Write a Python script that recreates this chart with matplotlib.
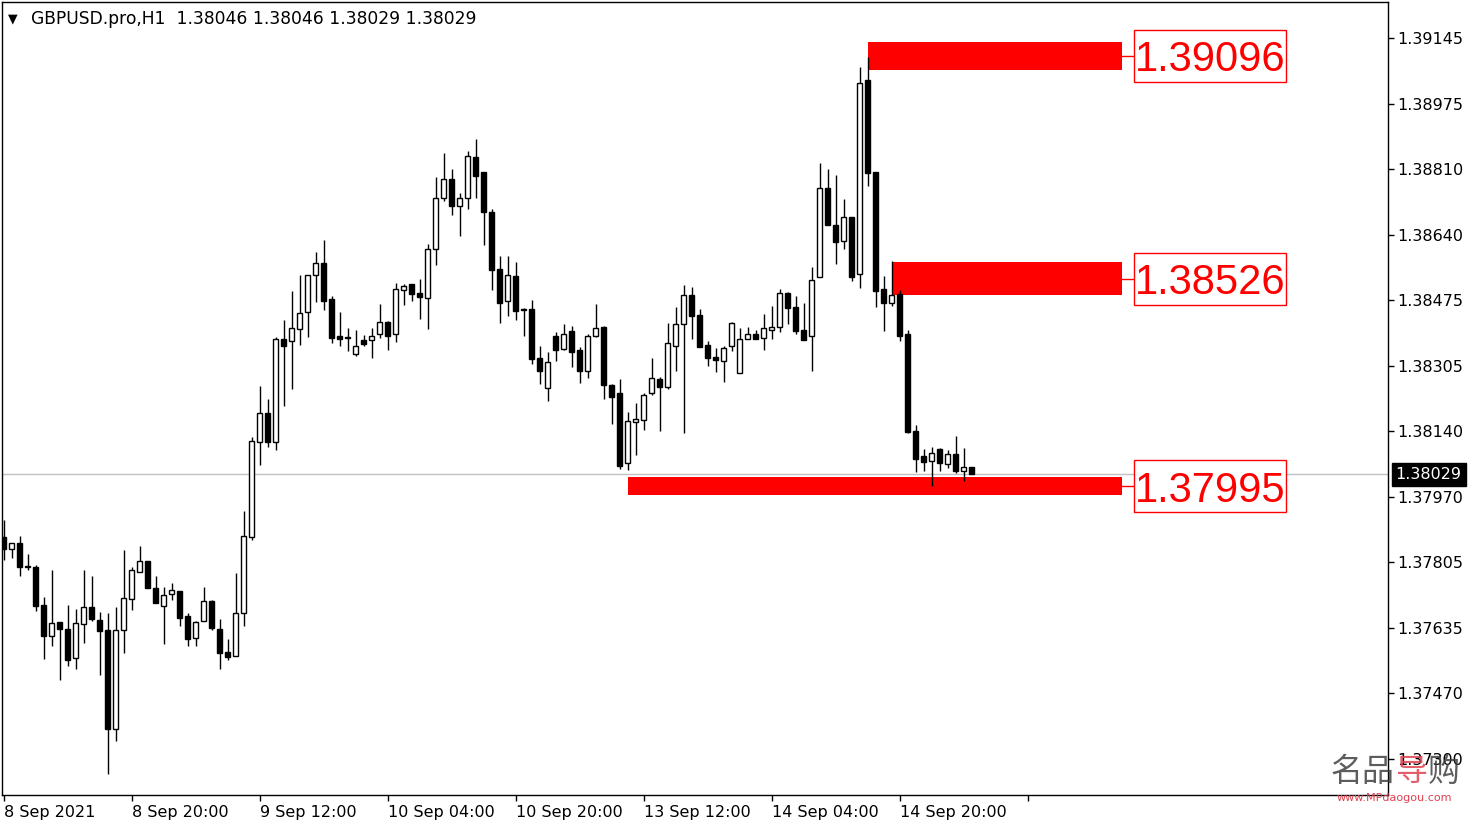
import matplotlib
matplotlib.use("Agg")
import matplotlib.pyplot as plt
from matplotlib.patches import Rectangle
from matplotlib.transforms import blended_transform_factory
import numpy as np

# GBPUSD H1 candles, 8 Sep 04:00 -> 15 Sep 05:00
opens = [1.37869, 1.37837, 1.37852, 1.37793, 1.37791, 1.37693, 1.37614, 1.37650, 1.37633, 1.37558,
         1.37645, 1.37688, 1.37656, 1.37630, 1.37378, 1.37629, 1.37710, 1.37779, 1.37807, 1.37737,
         1.37692, 1.37723, 1.37730, 1.37666, 1.37610, 1.37652, 1.37704, 1.37634, 1.37573, 1.37564,
         1.37673, 1.37869, 1.38110, 1.38185, 1.38110, 1.38375, 1.38369, 1.38400, 1.38443, 1.38538,
         1.38568, 1.38477, 1.38382, 1.38380, 1.38337, 1.38371, 1.38371, 1.38387, 1.38417, 1.38387,
         1.38499, 1.38515, 1.38492, 1.38479, 1.38604, 1.38735, 1.38783, 1.38714, 1.38735, 1.38840,
         1.38801, 1.38699, 1.38554, 1.38471, 1.38536, 1.38451, 1.38452, 1.38326, 1.38250, 1.38382,
         1.38350, 1.38395, 1.38347, 1.38294, 1.38382, 1.38405, 1.38257, 1.38237, 1.38057, 1.38163,
         1.38167, 1.38236, 1.38272, 1.38253, 1.38358, 1.38412, 1.38487, 1.38435, 1.38359, 1.38328,
         1.38318, 1.38356, 1.38287, 1.38374, 1.38387, 1.38377, 1.38397, 1.38406, 1.38492, 1.38456,
         1.38397, 1.38382, 1.38534, 1.38760, 1.38666, 1.38626, 1.38686, 1.38540, 1.39037, 1.38802,
         1.38503, 1.38468, 1.38490, 1.38388, 1.38139, 1.38075, 1.38063, 1.38093, 1.38056, 1.38080,
         1.38038, 1.38046]
highs = [1.37912, 1.37852, 1.37871, 1.37825, 1.37796, 1.37714, 1.37784, 1.37650, 1.37694, 1.37684,
         1.37784, 1.37768, 1.37675, 1.37673, 1.37688, 1.37835, 1.37792, 1.37846, 1.37807, 1.37768,
         1.37739, 1.37750, 1.37730, 1.37674, 1.37653, 1.37740, 1.37706, 1.37658, 1.37607, 1.37776,
         1.37935, 1.38125, 1.38255, 1.38221, 1.38381, 1.38423, 1.38498, 1.38539, 1.38539, 1.38597,
         1.38628, 1.38486, 1.38445, 1.38402, 1.38398, 1.38384, 1.38402, 1.38465, 1.38421, 1.38518,
         1.38516, 1.38515, 1.38528, 1.38618, 1.38789, 1.38851, 1.38810, 1.38748, 1.38856, 1.38887,
         1.38801, 1.38707, 1.38587, 1.38587, 1.38572, 1.38453, 1.38475, 1.38357, 1.38342, 1.38393,
         1.38413, 1.38408, 1.38354, 1.38388, 1.38464, 1.38408, 1.38260, 1.38272, 1.38187, 1.38211,
         1.38236, 1.38326, 1.38277, 1.38416, 1.38457, 1.38513, 1.38508, 1.38451, 1.38370, 1.38351,
         1.38356, 1.38418, 1.38402, 1.38405, 1.38397, 1.38439, 1.38458, 1.38503, 1.38494, 1.38484,
         1.38467, 1.38559, 1.38825, 1.38810, 1.38794, 1.38733, 1.38686, 1.39071, 1.39096, 1.38802,
         1.38536, 1.38574, 1.38500, 1.38398, 1.38155, 1.38093, 1.38098, 1.38096, 1.38091, 1.38126,
         1.38096, 1.38046]
lows = [1.37809, 1.37814, 1.37769, 1.37784, 1.37680, 1.37557, 1.37589, 1.37502, 1.37539, 1.37530,
        1.37598, 1.37654, 1.37516, 1.37263, 1.37347, 1.37572, 1.37681, 1.37779, 1.37738, 1.37700,
        1.37594, 1.37707, 1.37640, 1.37589, 1.37589, 1.37652, 1.37630, 1.37531, 1.37553, 1.37564,
        1.37640, 1.37860, 1.38052, 1.38099, 1.38091, 1.38204, 1.38248, 1.38360, 1.38381, 1.38470,
        1.38449, 1.38365, 1.38358, 1.38345, 1.38331, 1.38358, 1.38327, 1.38377, 1.38347, 1.38366,
        1.38463, 1.38473, 1.38427, 1.38400, 1.38565, 1.38729, 1.38693, 1.38639, 1.38708, 1.38736,
        1.38616, 1.38501, 1.38415, 1.38434, 1.38423, 1.38382, 1.38312, 1.38260, 1.38217, 1.38318,
        1.38347, 1.38304, 1.38263, 1.38275, 1.38379, 1.38222, 1.38157, 1.38042, 1.38039, 1.38078,
        1.38142, 1.38231, 1.38139, 1.38246, 1.38294, 1.38134, 1.38375, 1.38355, 1.38306, 1.38291,
        1.38265, 1.38345, 1.38287, 1.38374, 1.38374, 1.38347, 1.38375, 1.38393, 1.38414, 1.38388,
        1.38373, 1.38294, 1.38534, 1.38667, 1.38567, 1.38605, 1.38524, 1.38506, 1.38765, 1.38457,
        1.38396, 1.38459, 1.38370, 1.38135, 1.38035, 1.38037, 1.37999, 1.38038, 1.38045, 1.38033,
        1.38012, 1.38029]
closes = [1.37837, 1.37852, 1.37792, 1.37791, 1.37692, 1.37616, 1.37649, 1.37634, 1.37553, 1.37647,
          1.37688, 1.37659, 1.37628, 1.37378, 1.37630, 1.37711, 1.37784, 1.37808, 1.37738, 1.37700,
          1.37721, 1.37732, 1.37662, 1.37608, 1.37651, 1.37704, 1.37635, 1.37572, 1.37562, 1.37673,
          1.37870, 1.38114, 1.38185, 1.38112, 1.38375, 1.38358, 1.38402, 1.38440, 1.38538, 1.38568,
          1.38473, 1.38377, 1.38375, 1.38378, 1.38358, 1.38362, 1.38382, 1.38417, 1.38383, 1.38502,
          1.38510, 1.38489, 1.38481, 1.38604, 1.38735, 1.38783, 1.38714, 1.38735, 1.38842, 1.38793,
          1.38699, 1.38552, 1.38466, 1.38539, 1.38447, 1.38449, 1.38324, 1.38294, 1.38315, 1.38347,
          1.38388, 1.38342, 1.38294, 1.38382, 1.38402, 1.38258, 1.38227, 1.38051, 1.38164, 1.38169,
          1.38231, 1.38274, 1.38253, 1.38364, 1.38412, 1.38487, 1.38434, 1.38355, 1.38327, 1.38322,
          1.38351, 1.38415, 1.38374, 1.38387, 1.38374, 1.38402, 1.38405, 1.38492, 1.38455, 1.38396,
          1.38373, 1.38525, 1.38760, 1.38667, 1.38624, 1.38686, 1.38534, 1.39029, 1.38800, 1.38498,
          1.38468, 1.38487, 1.38382, 1.38137, 1.38068, 1.38061, 1.38082, 1.38058, 1.38080, 1.38038,
          1.38046, 1.38029]

time_labels = ["8 Sep 2021", "8 Sep 20:00", "9 Sep 12:00", "10 Sep 04:00", "10 Sep 20:00",
               "13 Sep 12:00", "14 Sep 04:00", "14 Sep 20:00"]
time_label_bars = [0, 16, 32, 48, 64, 80, 96, 112]
price_ticks = [1.39145, 1.38975, 1.38810, 1.38640, 1.38475, 1.38305, 1.38140,
               1.37970, 1.37805, 1.37635, 1.37470, 1.37300]
last_price = 1.38029
header = "GBPUSD.pro,H1  1.38046 1.38046 1.38029 1.38029"

# marked levels (red rectangles)
zone_levels = [1.39096, 1.38526, 1.37995]
zone_tops = [1.39135, 1.38572, 1.38022]
zone_bottoms = [1.39063, 1.38487, 1.37975]
zone_start_bar = [108, 111, 78]

RED = "#FF0000"
W, H = 1479, 827
fig = plt.figure(figsize=(W / 100, H / 100), dpi=100)
fig.patch.set_facecolor("white")
ax = fig.add_axes([2 / W, (H - 795) / H, 1386 / W, 793 / H])
ax.set_facecolor("white")

o, h, l, c = map(np.array, (opens, highs, lows, closes))
x = np.arange(len(o))
up = c >= o

ax.axhline(last_price, color="#C0C0C0", lw=1, zorder=1)

# zones + labels
box_l, box_r, zone_r = 141.3, 160.3, 139.8
box_half = 26 / 39078
for lev, top, bot, s in zip(zone_levels, zone_tops, zone_bottoms, zone_start_bar):
    ax.add_patch(Rectangle((s, bot), zone_r - s, top - bot, color=RED, lw=0, zorder=2))
    mid = (top + bot) / 2
    ax.plot([zone_r, box_l], [mid, mid], color=RED, lw=1, zorder=2)
    ax.add_patch(Rectangle((box_l, mid - box_half), box_r - box_l, 2 * box_half,
                           facecolor="white", edgecolor=RED, lw=1, zorder=2))
    ax.text((box_l + box_r) / 2, mid, f"{lev:.5f}", color=RED, fontsize=30,
            family="Liberation Sans", ha="center", va="center_baseline", zorder=3)

# candles
ax.vlines(x, l, h, color="black", lw=1, zorder=4)
body_h = np.maximum(np.abs(c - o), 0.000008)
ax.bar(x, body_h, bottom=np.minimum(o, c), width=0.52,
       color=np.where(up, "white", "black"), edgecolor="black", linewidth=1, zorder=5)

ax.set_xlim(-0.19, 173.06)
ax.set_ylim(1.37208, 1.39237)

ax.yaxis.tick_right()
ax.set_yticks(price_ticks)
ax.set_yticklabels([f"{p:.5f}" for p in price_ticks])
ax.set_xticks(time_label_bars + [128])
ax.set_xticklabels(time_labels + [""], ha="left")
ax.tick_params(axis="y", direction="out", length=4, width=1, pad=3, labelsize=11.5, colors="black")
ax.tick_params(axis="x", direction="out", length=4, width=1, pad=3, labelsize=11.5, colors="black")
for sp in ax.spines.values():
    sp.set_color("black"); sp.set_linewidth(1)

# current price tag on the axis
tr = blended_transform_factory(ax.transAxes, ax.transData)
ax.text(1.0055, last_price, f"{last_price:.5f}", transform=tr, color="white", fontsize=11.5,
        ha="left", va="center", bbox=dict(boxstyle="square,pad=0.25", facecolor="black", edgecolor="black"),
        zorder=6, clip_on=False)

# header
ax.text(6 / 1386, 1 - 17 / 793, "▼", transform=ax.transAxes, fontsize=9, va="center", ha="left")
ax.text(29 / 1386, 1 - 17 / 793, header, transform=ax.transAxes, fontsize=12.3, va="center", ha="left")

# watermark
fig.text(1395 / W, 1 - 772 / H, "名品", family=["Noto Sans CJK SC"], fontsize=23, color="#404040",
         ha="right", va="center", alpha=0.85)
fig.text(1395 / W, 1 - 772 / H, "导", family=["Noto Sans CJK SC"], fontsize=23, color="#E04050",
         ha="left", va="center", alpha=0.85)
fig.text(1428 / W, 1 - 772 / H, "购", family=["Noto Sans CJK SC"], fontsize=23, color="#404040",
         ha="left", va="center", alpha=0.85)
fig.text(1394 / W, 1 - 798 / H, "www.MPdaogou.com", fontsize=8, color="#E04050", ha="center", va="center")

fig.savefig("out.png", dpi=100)
